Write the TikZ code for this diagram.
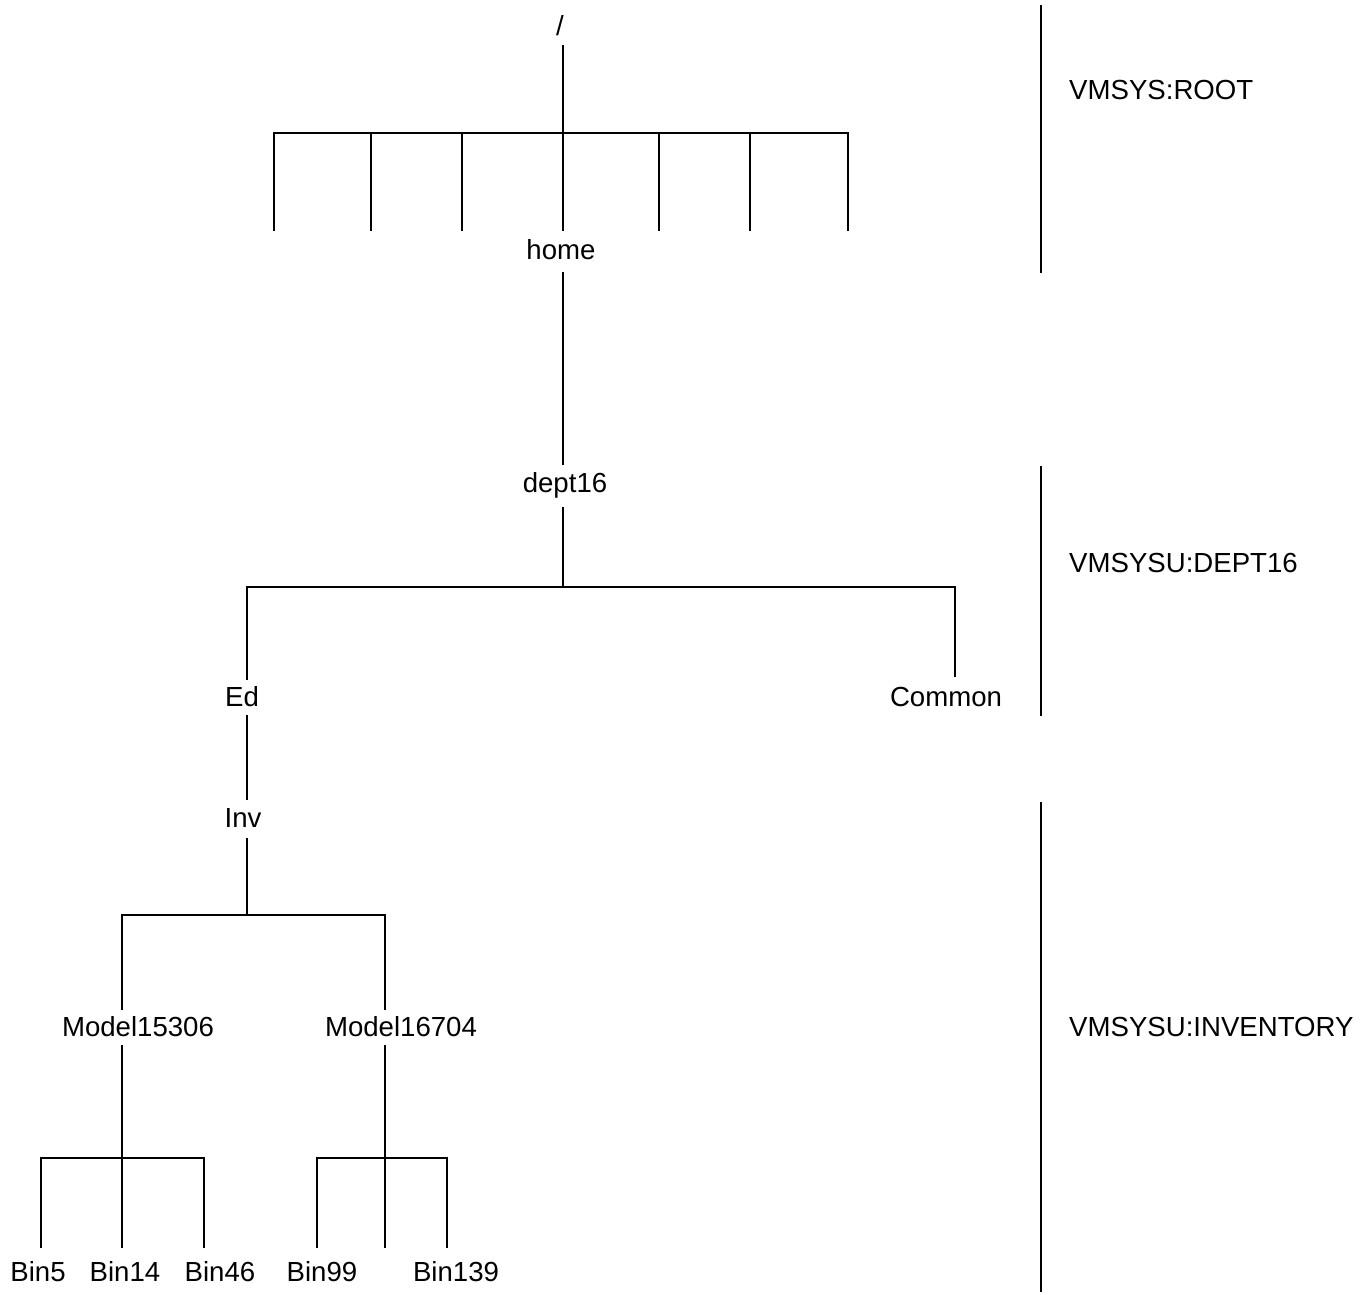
\documentclass[tikz,border=0pt]{standalone}
\usepackage{fontspec}
\setmainfont{Liberation Sans}
\begin{document}
\begin{tikzpicture}[x=1pt,y=-1pt,
  ln/.style={line width=2.6pt,line cap=butt},
  lbl/.style={inner sep=0pt,text height=19.8pt,text depth=0pt,font=\fontsize{27.6}{32}\selectfont},
  vol/.style={inner sep=0pt,text height=19.8pt,text depth=0pt,anchor=west,font=\fontsize{27.6}{32}\selectfont}]
\useasboundingbox (0,0) rectangle (1369,1294);
% nodes
\node[lbl] (root) at (560,26) {/};
\node[lbl] (home) at (561,250) {home};
\node[lbl] (dept) at (565,483) {dept16};
\node[lbl] (ed) at (242,697) {Ed};
\node[lbl] (common) at (946,697) {Common};
\node[lbl] (inv) at (243,818) {Inv};
\node[lbl] (m1) at (138,1027) {Model15306};
\node[lbl] (m2) at (401,1027) {Model16704};
\node[lbl] (b5) at (38,1272) {Bin5};
\node[lbl] (b14) at (125,1272) {Bin14};
\node[lbl] (b46) at (220,1272) {Bin46};
\node[lbl] (b99) at (322,1272) {Bin99};
\node[lbl] (b139) at (456,1272) {Bin139};
\node[vol] (v1) at (1069,90) {VMSYS:ROOT};
\node[vol] (v2) at (1069,563) {VMSYSU:DEPT16};
\node[vol] (v3) at (1069,1027) {VMSYSU:INVENTORY};
% coordinates
\coordinate (rtop) at (563,45);
\coordinate (rbar) at (563,133);
\coordinate (homeT) at (563,231);
\coordinate (homeB) at (563,272);
\coordinate (deptT) at (563,465);
\coordinate (deptB) at (563,507);
\coordinate (deptBar) at (563,587);
\coordinate (edT) at (247,680);
\coordinate (edB) at (247,715);
\coordinate (comT) at (955,677);
\coordinate (invT) at (247,800);
\coordinate (invB) at (247,838);
\coordinate (invBar) at (247,915);
\coordinate (m1T) at (122,1010);
\coordinate (m2T) at (385,1010);
\coordinate (m1B) at (122,1045);
\coordinate (m2B) at (385,1045);
\coordinate (m1Bar) at (122,1158);
\coordinate (m2Bar) at (385,1158);
% root
\draw[ln] (rtop) -- (homeT);
\draw[ln] (274,231) |- (848,133) -- (848,231);
\foreach \x in {371,462,659,750} \draw[ln] (\x,133) -- (\x,231);
% home - dept16
\draw[ln] (homeB) -- (deptT);
% dept16 children
\draw[ln] (deptB) -- (deptBar);
\draw[ln] (edT) |- (comT |- deptBar) -- (comT);
% Ed - Inv
\draw[ln] (edB) -- (invT);
% Inv children
\draw[ln] (invB) -- (invBar);
\draw[ln] (m1T) |- (m2T |- invBar) -- (m2T);
% Model15306 children
\draw[ln] (m1B) -- (122,1248);
\draw[ln] (41,1248) |- (204,1158) -- (204,1248);
% Model16704 children
\draw[ln] (m2B) -- (385,1248);
\draw[ln] (317,1248) |- (447,1158) -- (447,1248);
% volume separators
\draw[ln] (1041,5) -- (1041,273);
\draw[ln] (1041,466) -- (1041,716);
\draw[ln] (1041,802) -- (1041,1292);
\end{tikzpicture}
\end{document}
